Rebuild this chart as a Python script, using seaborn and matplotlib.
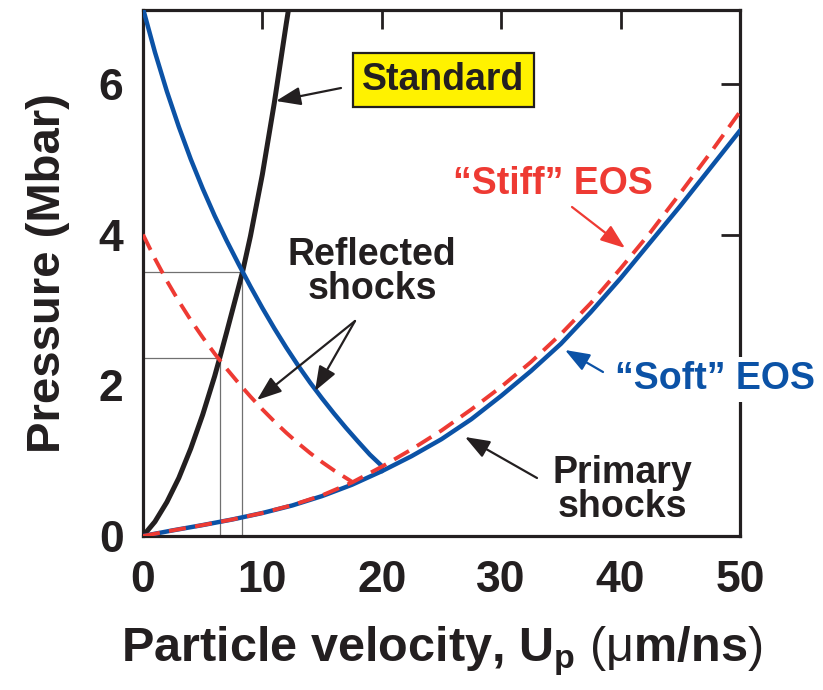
import matplotlib
matplotlib.use("Agg")
import matplotlib.pyplot as plt
import seaborn as sns
import pandas as pd

# Standard (ablator) Hugoniot
std_up = [0, 1, 2, 3, 4, 5, 6, 6.42, 7, 8, 8.33, 9, 10, 11, 12, 12.2]
std_p = [0, 0.19, 0.45, 0.77, 1.16, 1.61, 2.12, 2.36, 2.70, 3.30, 3.50,
         3.98, 4.80, 5.75, 6.80, 7.0]

# Primary shock Hugoniots
prim_up = [0, 2.5, 5, 7.5, 10, 12.5, 15, 17.5, 20, 22.5, 25, 27.5, 30,
           32.5, 35, 37.5, 40, 42.5, 45, 47.5, 50]
soft_p = [0, 0.075, 0.145, 0.22, 0.305, 0.405, 0.53, 0.68, 0.86, 1.06,
          1.285, 1.55, 1.86, 2.19, 2.55, 2.97, 3.42, 3.90, 4.38, 4.88, 5.38]
stiff_p = [0, 0.075, 0.145, 0.22, 0.305, 0.41, 0.54, 0.71, 0.92, 1.15,
           1.40, 1.68, 1.98, 2.31, 2.68, 3.09, 3.55, 4.03, 4.55, 5.08, 5.63]

# Reflected shocks
refl_soft_up = [0, 1, 2, 3, 4, 5, 6, 7, 8, 9, 10, 11, 12, 13, 14, 15, 16,
                17, 18, 19, 20, 20]
refl_soft_p = [7.0, 6.42, 5.90, 5.43, 5.00, 4.61, 4.25, 3.92, 3.61, 3.31,
               3.025, 2.755, 2.50, 2.26, 2.035, 1.825, 1.625, 1.435, 1.255,
               1.08, 0.93, 0.86]
refl_stiff_up = [0, 1, 2, 3, 4, 5, 6, 7, 8, 9, 10, 11, 12, 13, 14, 15, 16,
                 17, 17.5]
refl_stiff_p = [4.0, 3.68, 3.385, 3.115, 2.865, 2.635, 2.42, 2.22, 2.03,
                1.85, 1.68, 1.52, 1.37, 1.23, 1.10, 0.98, 0.87, 0.77, 0.72]

# Impedance-match points (Up, P)
match_soft = (8.33, 3.5)
match_stiff = (6.42, 2.36)

x_ticks = [0, 10, 20, 30, 40, 50]
y_ticks = [0, 2, 4, 6]

BLUE = "#0b52a6"
RED = "#ee3a33"
BLACK = "#231f20"
GRAY = "#707070"

sns.set_theme(style="white")
plt.rcParams["font.family"] = ["Liberation Sans", "DejaVu Sans"]
plt.rcParams["mathtext.fontset"] = "custom"
plt.rcParams["mathtext.rm"] = "Liberation Sans"
plt.rcParams["mathtext.bf"] = "Liberation Sans:bold"

fig = plt.figure(figsize=(8.23, 6.90), dpi=100)
ax = fig.add_axes([143 / 823, 1 - 536 / 690, (740 - 143) / 823, (536 - 10) / 690])

# thin guide lines at the matching points
for (u, p) in (match_soft, match_stiff):
    ax.plot([0, u], [p, p], color=GRAY, lw=0.9, zorder=1)
    ax.plot([u, u], [0, p], color=GRAY, lw=0.9, zorder=1)

df_std = pd.DataFrame({"up": std_up, "p": std_p})
sns.lineplot(data=df_std, x="up", y="p", ax=ax, color=BLACK, lw=3.6,
             sort=False, estimator=None, zorder=3)

sns.lineplot(x=prim_up, y=soft_p, ax=ax, color=BLUE, lw=3.2,
             sort=False, estimator=None, zorder=3)
sns.lineplot(x=refl_soft_up, y=refl_soft_p, ax=ax, color=BLUE, lw=3.2,
             sort=False, estimator=None, zorder=3)

dash = (0, (4.4, 2.4))
sns.lineplot(x=prim_up, y=stiff_p, ax=ax, color=RED, lw=2.8, linestyle=dash,
             sort=False, estimator=None, zorder=4)
sns.lineplot(x=refl_stiff_up, y=refl_stiff_p, ax=ax, color=RED, lw=2.8,
             linestyle=dash, sort=False, estimator=None, zorder=4)

ax.set_xlim(0, 50)
ax.set_ylim(0, 6.98)
ax.set_xticks(x_ticks)
ax.set_yticks(y_ticks)
ax.set_xticklabels([str(v) for v in x_ticks])
ax.set_yticklabels([str(v) for v in y_ticks])

for s in ax.spines.values():
    s.set_visible(True)
    s.set_color(BLACK)
    s.set_linewidth(2.3)
ax.tick_params(axis="both", which="major", direction="in", length=14,
               width=2.0, color=BLACK, top=True, right=True,
               labelsize=32, labelcolor=BLACK)
ax.tick_params(axis="x", pad=17)
ax.tick_params(axis="y", pad=14)
for lab in ax.get_xticklabels() + ax.get_yticklabels():
    lab.set_fontweight("bold")

ax.set_ylabel("Pressure (Mbar)", fontsize=34, fontweight="bold",
              color=BLACK, labelpad=21)
ax.set_xlabel(r"Particle velocity, $\mathbf{U_p}$ $(\mathrm{μ}\mathbf{m/ns})$",
              fontsize=35, fontweight="bold", color=BLACK, labelpad=17)

txt_kw = dict(fontsize=27, fontweight="bold", ha="center", va="center")


def px(x, y):
    """figure-pixel position to data coordinates"""
    disp = fig.transFigure.transform((x / 823, 1 - y / 690))
    return tuple(ax.transData.inverted().transform(disp))


arrow_kw = dict(arrowstyle="-|>,head_length=0.75,head_width=0.28", lw=1.6,
                shrinkA=0, shrinkB=0, mutation_scale=20)

ax.text(*px(443, 80), "Standard", color=BLACK, zorder=6,
        bbox=dict(boxstyle="square,pad=0.25", fc="#fff200", ec=BLACK, lw=1.6),
        **txt_kw)
ax.annotate("", xy=px(276, 101), xytext=px(341, 88),
            arrowprops=dict(color=BLACK, **arrow_kw))

ax.text(*px(372, 272), "Reflected\nshocks", color=BLACK, linespacing=0.92,
        **txt_kw)
for tip in ((257, 400), (315, 391)):
    ax.annotate("", xy=px(*tip), xytext=px(355, 321),
                arrowprops=dict(color=BLACK, **arrow_kw))

ax.text(*px(553, 184), "“Stiff” EOS", color=RED, **txt_kw)
ax.annotate("", xy=px(625, 248), xytext=px(572, 207),
            arrowprops=dict(color=RED, **arrow_kw))

ax.text(*px(715, 379), "“Soft” EOS", color=BLUE, clip_on=False, zorder=7,
        bbox=dict(boxstyle="square,pad=0.12", fc="white", ec="none"), **txt_kw)
ax.annotate("", xy=px(565, 350), xytext=px(603, 372),
            arrowprops=dict(color=BLUE, **arrow_kw))

ax.text(*px(622, 490), "Primary\nshocks", color=BLACK, linespacing=0.92,
        **txt_kw)
ax.annotate("", xy=px(465, 437), xytext=px(537, 478),
            arrowprops=dict(color=BLACK, **arrow_kw))

fig.savefig("out.png", dpi=100)
